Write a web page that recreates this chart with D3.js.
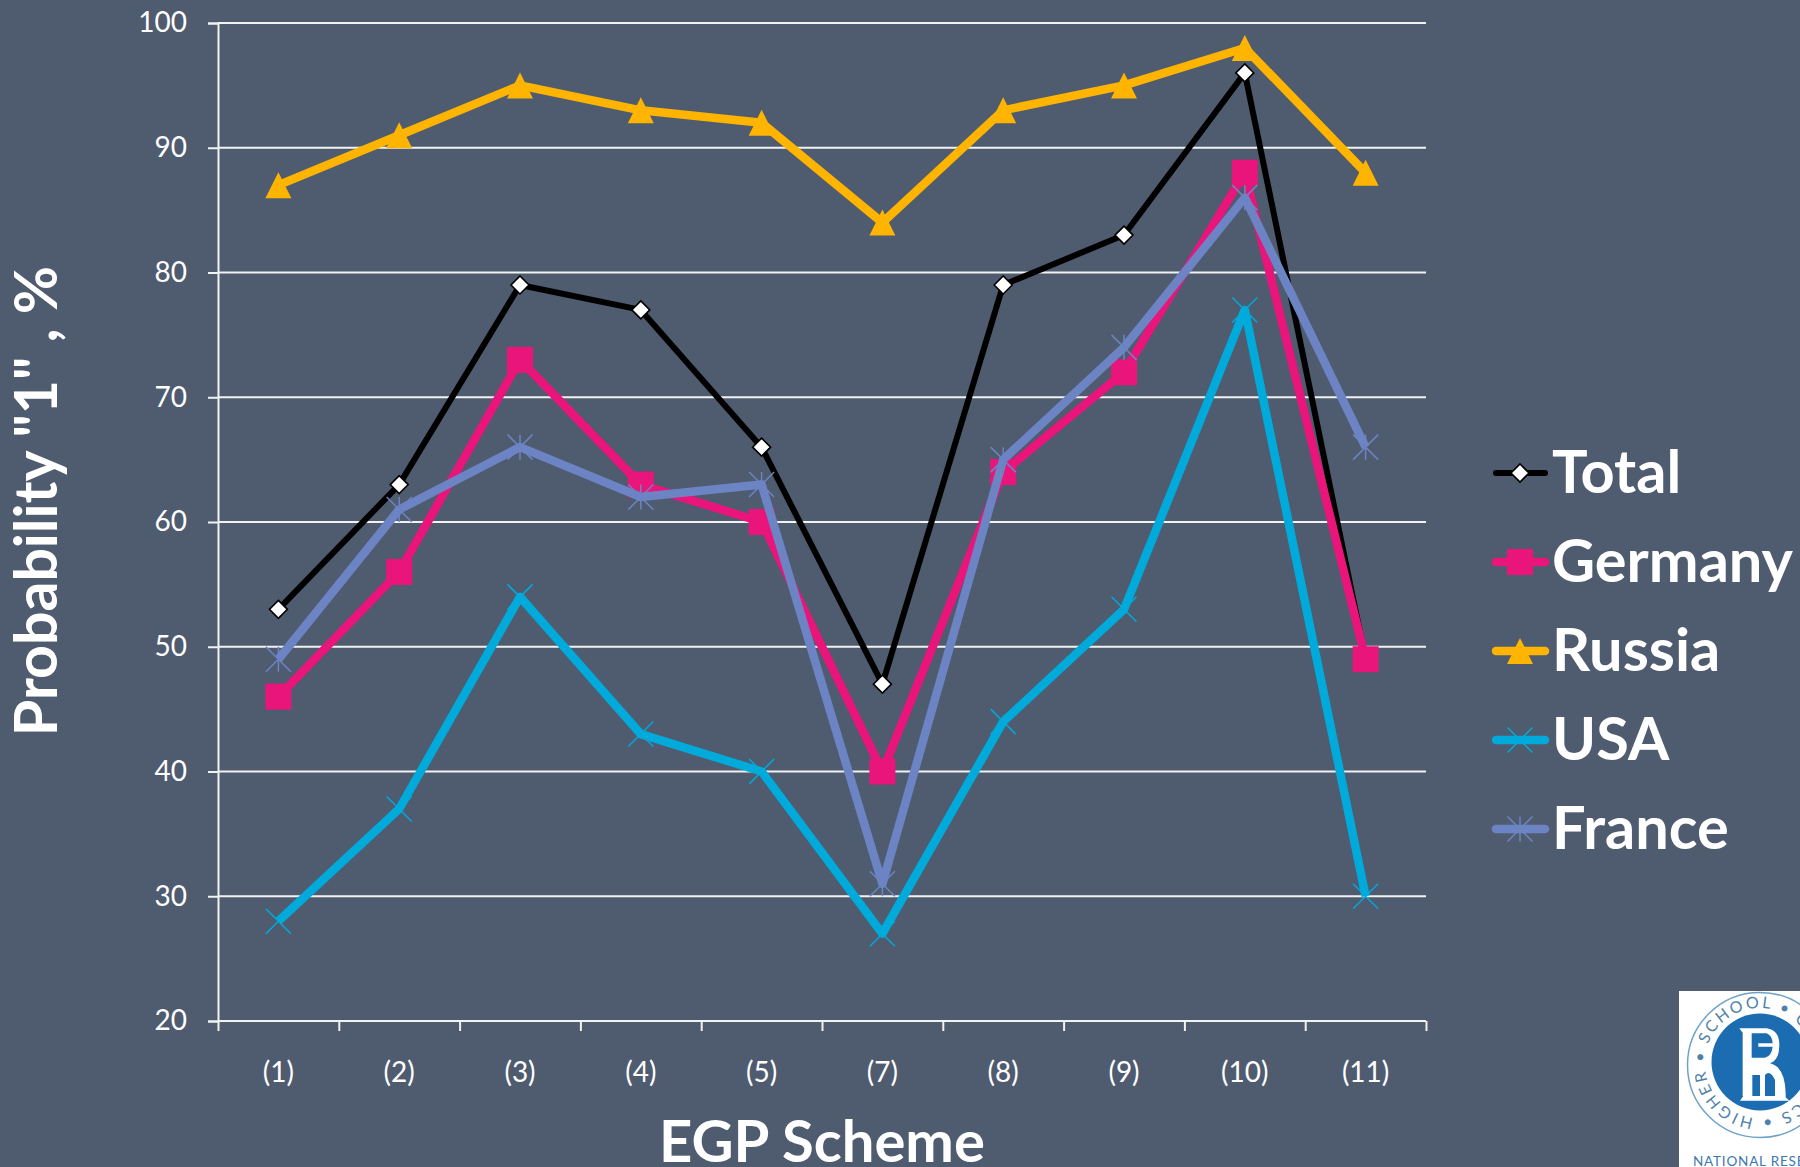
<!DOCTYPE html>
<html>
<head>
<meta charset="utf-8">
<script src="https://cdnjs.cloudflare.com/ajax/libs/d3/7.8.5/d3.min.js"></script>
<style>
html,body{margin:0;padding:0;background:#4f5b6f;overflow:hidden}
svg{display:block}
text{font-family:Lato,"Open Sans",sans-serif;fill:#fff}
</style>
</head>
<body>
<svg id="chart" width="1800" height="1167"></svg>
<script>
var categories = ["(1)","(2)","(3)","(4)","(5)","(7)","(8)","(9)","(10)","(11)"];
var yTicks = [20,30,40,50,60,70,80,90,100];
var total   = [53,63,79,77,66,47,79,83,96,49];
var germany = [46,56,73,63,60,40,64,72,88,49];
var russia  = [87,91,95,93,92,84,93,95,98,88];
var usa     = [28,37,54,43,40,27,44,53,77,30];
var france  = [49,61,66,62,63,31,65,74,86,66];
var seriesNames = ["Total","Germany","Russia","USA","France"];

// marker shapes, size is half width here not area
var markX = {draw:function(c,s){c.moveTo(-s,-s);c.lineTo(s,s);c.moveTo(-s,s);c.lineTo(s,-s);}};
var markStar = {draw:function(c,s){markX.draw(c,s);c.moveTo(0,-s);c.lineTo(0,s);}};
var markSquare = {draw:function(c,s){c.rect(-s,-s,2*s,2*s);}};
var markTri = {draw:function(c,s){c.moveTo(0,-s);c.lineTo(s,s);c.lineTo(-s,s);c.closePath();}};
var markDiamond = {draw:function(c,s){c.moveTo(0,-s);c.lineTo(s,0);c.lineTo(0,s);c.lineTo(-s,0);c.closePath();}};

var series = [
  {name:seriesNames[0],values:total,color:"#000000",width:6,mark:markDiamond,size:9,fill:"#ffffff",stroke:"#000000",sw:1.6},
  {name:seriesNames[1],values:germany,color:"#e9157b",width:8.5,mark:markSquare,size:13,fill:"#e9157b",stroke:"none",sw:0},
  {name:seriesNames[2],values:russia,color:"#ffb400",width:8.5,mark:markTri,size:13,fill:"#ffb400",stroke:"none",sw:0},
  {name:seriesNames[3],values:usa,color:"#00aadb",width:8.5,mark:markX,size:12.5,fill:"none",stroke:"#00aadb",sw:1.5},
  {name:seriesNames[4],values:france,color:"#6c84c4",width:8.5,mark:markStar,size:12.5,fill:"none",stroke:"#6c84c4",sw:1.5}
];

var svg = d3.select("#chart");
var left=218, right=1426, top_=23, bottom=1021;

var x = d3.scaleBand().domain(categories).range([left,right]);
var xEdge = d3.scaleLinear().domain([0,categories.length]).range([left,right]);
var y = d3.scaleLinear().domain([20,100]).range([bottom,top_]);

// gridlines + y axis
var yAxis = d3.axisLeft(y).tickValues(yTicks).tickSize(10).tickPadding(21);
var gy = svg.append("g").attr("transform","translate("+left+",0)").call(yAxis);
gy.selectAll(".tick line").attr("stroke","#f2f2f2").attr("stroke-width",2);
gy.select(".domain").attr("stroke","#f2f2f2").attr("stroke-width",2);
gy.selectAll(".tick text").attr("font-size",28).style("font-family","Lato").attr("fill","#fff");

svg.append("g").selectAll("line").data(yTicks).enter().append("line")
  .attr("x1",left).attr("x2",right)
  .attr("y1",function(d){return y(d)}).attr("y2",function(d){return y(d)})
  .attr("stroke","#f2f2f2").attr("stroke-width",2);

// tick marks between the categories
var gEdge = svg.append("g").attr("transform","translate(0,"+bottom+")")
  .call(d3.axisBottom(xEdge).ticks(categories.length).tickSize(10).tickFormat(""));
gEdge.select(".domain").remove();
gEdge.selectAll(".tick text").remove();
gEdge.selectAll(".tick line").attr("stroke","#f2f2f2").attr("stroke-width",2);

// category labels
var gx = svg.append("g").attr("transform","translate(0,"+bottom+")")
  .call(d3.axisBottom(x).tickSize(0).tickPadding(41));
gx.select(".domain").remove();
gx.selectAll(".tick text").attr("font-size",28).style("font-family","Lato").attr("fill","#fff");

// lines
var line = d3.line().x(function(d,i){return x(categories[i])+x.bandwidth()/2}).y(function(d){return y(d)});
series.forEach(function(s){
  var g = svg.append("g");
  g.append("path").attr("d",line(s.values)).attr("fill","none")
    .attr("stroke",s.color).attr("stroke-width",s.width).attr("stroke-linejoin","round");
  g.selectAll("path.pt").data(s.values).enter().append("path").attr("class","pt")
    .attr("transform",function(d,i){return "translate("+(x(categories[i])+x.bandwidth()/2)+","+y(d)+")"})
    .attr("d",d3.symbol().type(s.mark).size(s.size))
    .attr("fill",s.fill).attr("stroke",s.stroke).attr("stroke-width",s.sw);
});

// axis titles
svg.append("text").attr("transform","translate(57,501) rotate(-90)").attr("text-anchor","middle")
  .attr("font-size",59).attr("font-weight",700).text('Probability "1" , %');
svg.append("text").attr("x",822).attr("y",1162).attr("text-anchor","middle")
  .attr("font-size",58).attr("font-weight",700).text("EGP Scheme");

// legend
var legendY = d3.scalePoint().domain(seriesNames).range([473,829]);
series.forEach(function(s){
  var g = svg.append("g").attr("transform","translate(0,"+legendY(s.name)+")");
  g.append("line").attr("x1",1496).attr("x2",1545).attr("stroke",s.color)
    .attr("stroke-width",s.width).attr("stroke-linecap","round");
  g.append("path").attr("transform","translate(1520,0)")
    .attr("d",d3.symbol().type(s.mark).size(s.size))
    .attr("fill",s.fill).attr("stroke",s.stroke).attr("stroke-width",s.sw);
  g.append("text").attr("x",1552).attr("y",20).attr("font-size",59.5).attr("font-weight",700).text(s.name);
});

// logo, cut by the right edge
var logo = svg.append("g");
logo.append("rect").attr("x",1679).attr("y",991).attr("width",121).attr("height",176).attr("fill","#ffffff");
logo.append("circle").attr("cx",1760).attr("cy",1065).attr("r",72.5).attr("fill","none").attr("stroke","#6ea3c9").attr("stroke-width",1.5);
logo.append("circle").attr("cx",1760).attr("cy",1062).attr("r",48.5).attr("fill","#1b6cb0");
// building shaped R, drawn in a 3x grid
var glyph = logo.append("g").attr("transform","translate(1720,1010) scale(0.3333)");
glyph.append("path").attr("fill","#fff")
  .attr("d","M58 55L140 55Q178 60 178 105Q178 150 150 160Q195 170 197 250L197 262L208 272L60 272L70 258L68 258L68 68Z");
glyph.append("path").attr("fill","#1b6cb0")
  .attr("d","M95 70L140 70Q156 76 158 100L115 100L115 110L158 110Q155 138 135 143L95 143ZM97 195L120 195L120 258L97 258ZM135 258L135 195Q150 178 165 210L165 258Z");
logo.append("path").attr("id","logoArc").attr("fill","none")
  .attr("d","M1803 1097A55 55 0 1 1 1811 1043");
logo.append("text").style("fill","#4f82aa").attr("font-size",16).attr("letter-spacing",2.4)
  .append("textPath").attr("href","#logoArc").text("ICS \u2022 HIGHER \u2022 SCHOOL \u2022 OF");
logo.append("text").attr("x",1693).attr("y",1166).style("fill","#3a78ad").attr("font-size",13.5).attr("letter-spacing",0.8)
  .text("NATIONAL RESEARCH UNIVERSITY");
</script>
</body>
</html>
